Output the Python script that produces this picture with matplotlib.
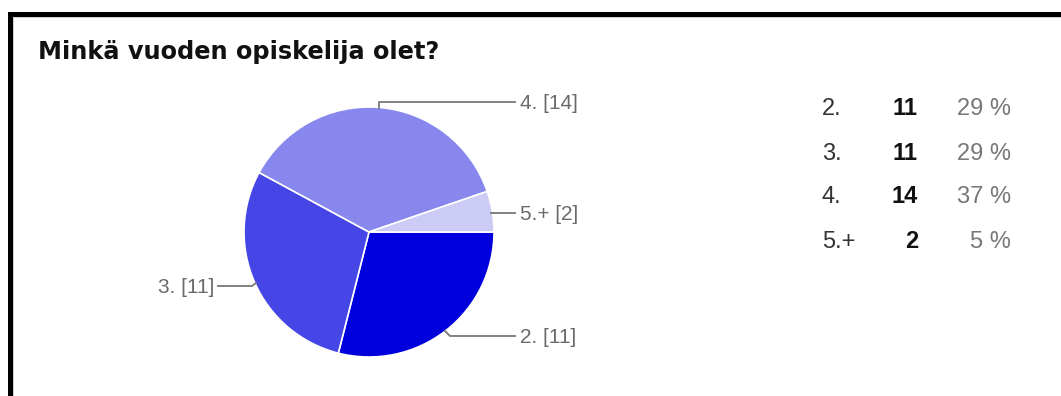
import matplotlib.pyplot as plt
from matplotlib.patches import Rectangle

plt.rcParams['font.family'] = ['Liberation Sans', 'DejaVu Sans']

# survey answers
labels = ["2.", "3.", "4.", "5.+"]
counts = [11, 11, 14, 2]
percents = ["29 %", "29 %", "37 %", "5 %"]
colors = ["#0000dd", "#4646e6", "#8787ee", "#cbcbf6"]

W, H = 1061, 396
fig = plt.figure(figsize=(W / 100, H / 100), dpi=100)
ax = fig.add_axes([0, 0, 1, 1])

# frame of the screenshot
ax.add_patch(Rectangle((8, 0), 5, H - 12, color='black', lw=0))
ax.add_patch(Rectangle((8, H - 17), W, 5, color='black', lw=0))
ax.add_patch(Rectangle((13, 0), 1.2, H - 17, color='#d0d0d0', lw=0))
ax.add_patch(Rectangle((13, H - 18.2), W, 1.2, color='#d0d0d0', lw=0))

ax.text(38, H - 59, "Minkä vuoden opiskelija olet?", fontsize=17.3, fontweight='bold',
        family='DejaVu Sans', color='#111111', va='baseline', ha='left')

# pie
cx, cy, r = 369, H - 232, 125
ax.pie(counts, colors=colors, center=(cx, cy), radius=r, startangle=0,
       counterclock=False, wedgeprops=dict(edgecolor='white', linewidth=1.2),
       frame=True)
ax.set_xlim(0, W)
ax.set_ylim(0, H)
ax.set_aspect('equal')
ax.axis('off')

lc = '#777777'
tc = '#6a6a6a'
fs = 15
# 4. [14]
ax.plot([379, 379, 515], [H - 108, H - 102, H - 102], color=lc, lw=1.3)
ax.text(520, H - 109, f"{labels[2]} [{counts[2]}]", fontsize=fs, color=tc, va='baseline')
# 5.+ [2]
ax.plot([491, 515], [H - 213, H - 213], color=lc, lw=1.3)
ax.text(520, H - 220, f"{labels[3]} [{counts[3]}]", fontsize=fs, color=tc, va='baseline')
# 3. [11]
ax.plot([218, 252, 256], [H - 286, H - 286, H - 283], color=lc, lw=1.3)
ax.text(214, H - 293, f"{labels[1]} [{counts[1]}]", fontsize=fs, color=tc,
        va='baseline', ha='right')
# 2. [11]
ax.plot([445, 450, 515], [H - 331, H - 336, H - 336], color=lc, lw=1.3)
ax.text(520, H - 343, f"{labels[0]} [{counts[0]}]", fontsize=fs, color=tc, va='baseline')

# table on the right
row_y = [115, 160, 203, 248]
for lab, n, p, y in zip(labels, counts, percents, row_y):
    ax.text(822, H - y, lab, fontsize=17, color='#333333', va='baseline', ha='left')
    ax.text(918, H - y, str(n), fontsize=17, color='#111111', fontweight='bold',
            va='baseline', ha='right')
    ax.text(1011, H - y, p, fontsize=17, color='#777777', va='baseline', ha='right')

fig.savefig('out.png', dpi=100, facecolor='white')
